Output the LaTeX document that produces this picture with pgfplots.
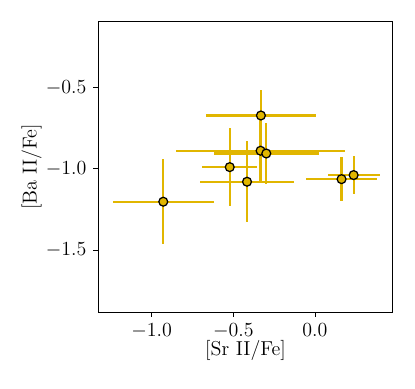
\documentclass[border=0pt]{standalone}
\usepackage{pgfplots}
\pgfplotsset{compat=1.18}
\definecolor{gold}{RGB}{225,182,0}
\begin{document}
\begin{tikzpicture}
\fontsize{14.5}{17}\selectfont
\begin{axis}[
  scale only axis,
  width=212pt, height=209.2pt,
  xmin=-1.327, xmax=0.476,
  ymin=-1.883, ymax=-0.094,
  xtick={-1,-0.5,0}, ytick={-1.5,-1,-0.5},
  xticklabels={$-1.0$,$-0.5$,$0.0$},
  yticklabels={$-1.5$,$-1.0$,$-0.5$},
  tick align=outside, major tick length=3.5pt,
  tick style={black, line width=0.6pt},
  axis line style={line width=0.6pt},
  xtick pos=bottom, ytick pos=left,
  xlabel={[Sr II/Fe]}, ylabel={[Ba II/Fe]},
  every axis x label/.style={at={(rel axis cs:0.5,0)}, yshift=-27.9pt, anchor=center},
  every axis y label/.style={at={(rel axis cs:0,0.5)}, xshift=-48pt, rotate=90, anchor=center},
  label style={font=\fontsize{14.5}{17}\selectfont},
  ticklabel style={font=\fontsize{14.5}{17}\selectfont},
]
\addplot[only marks, mark=*, mark size=3.2pt, color=gold, line width=1.6pt,
  mark options={fill=gold, draw=black, line width=0.9pt},
  error bars/.cd, x dir=both, y dir=both, x explicit, y explicit,
  error mark=none,
  error bar style={draw=gold, line width=1.6pt, solid}]
  table[x=x, y=y, x error=ex, y error=ey] {
x y ex ey
-0.929 -1.203 0.31 0.26
-0.522 -0.990 0.17 0.24
-0.416 -1.080 0.29 0.25
-0.331 -0.672 0.335 0.16
-0.333 -0.889 0.52 0.19
-0.298 -0.906 0.32 0.19
0.163 -1.064 0.22 0.135
0.237 -1.039 0.16 0.117
};
\coordinate (sw) at (rel axis cs:0,0);
\coordinate (ne) at (rel axis cs:1,1);
\end{axis}
\pgfresetboundingbox
\useasboundingbox ([shift={(-70.8pt,-55.2pt)}]sw) rectangle ([shift={(16.1pt,15.6pt)}]ne);
\end{tikzpicture}
\end{document}
